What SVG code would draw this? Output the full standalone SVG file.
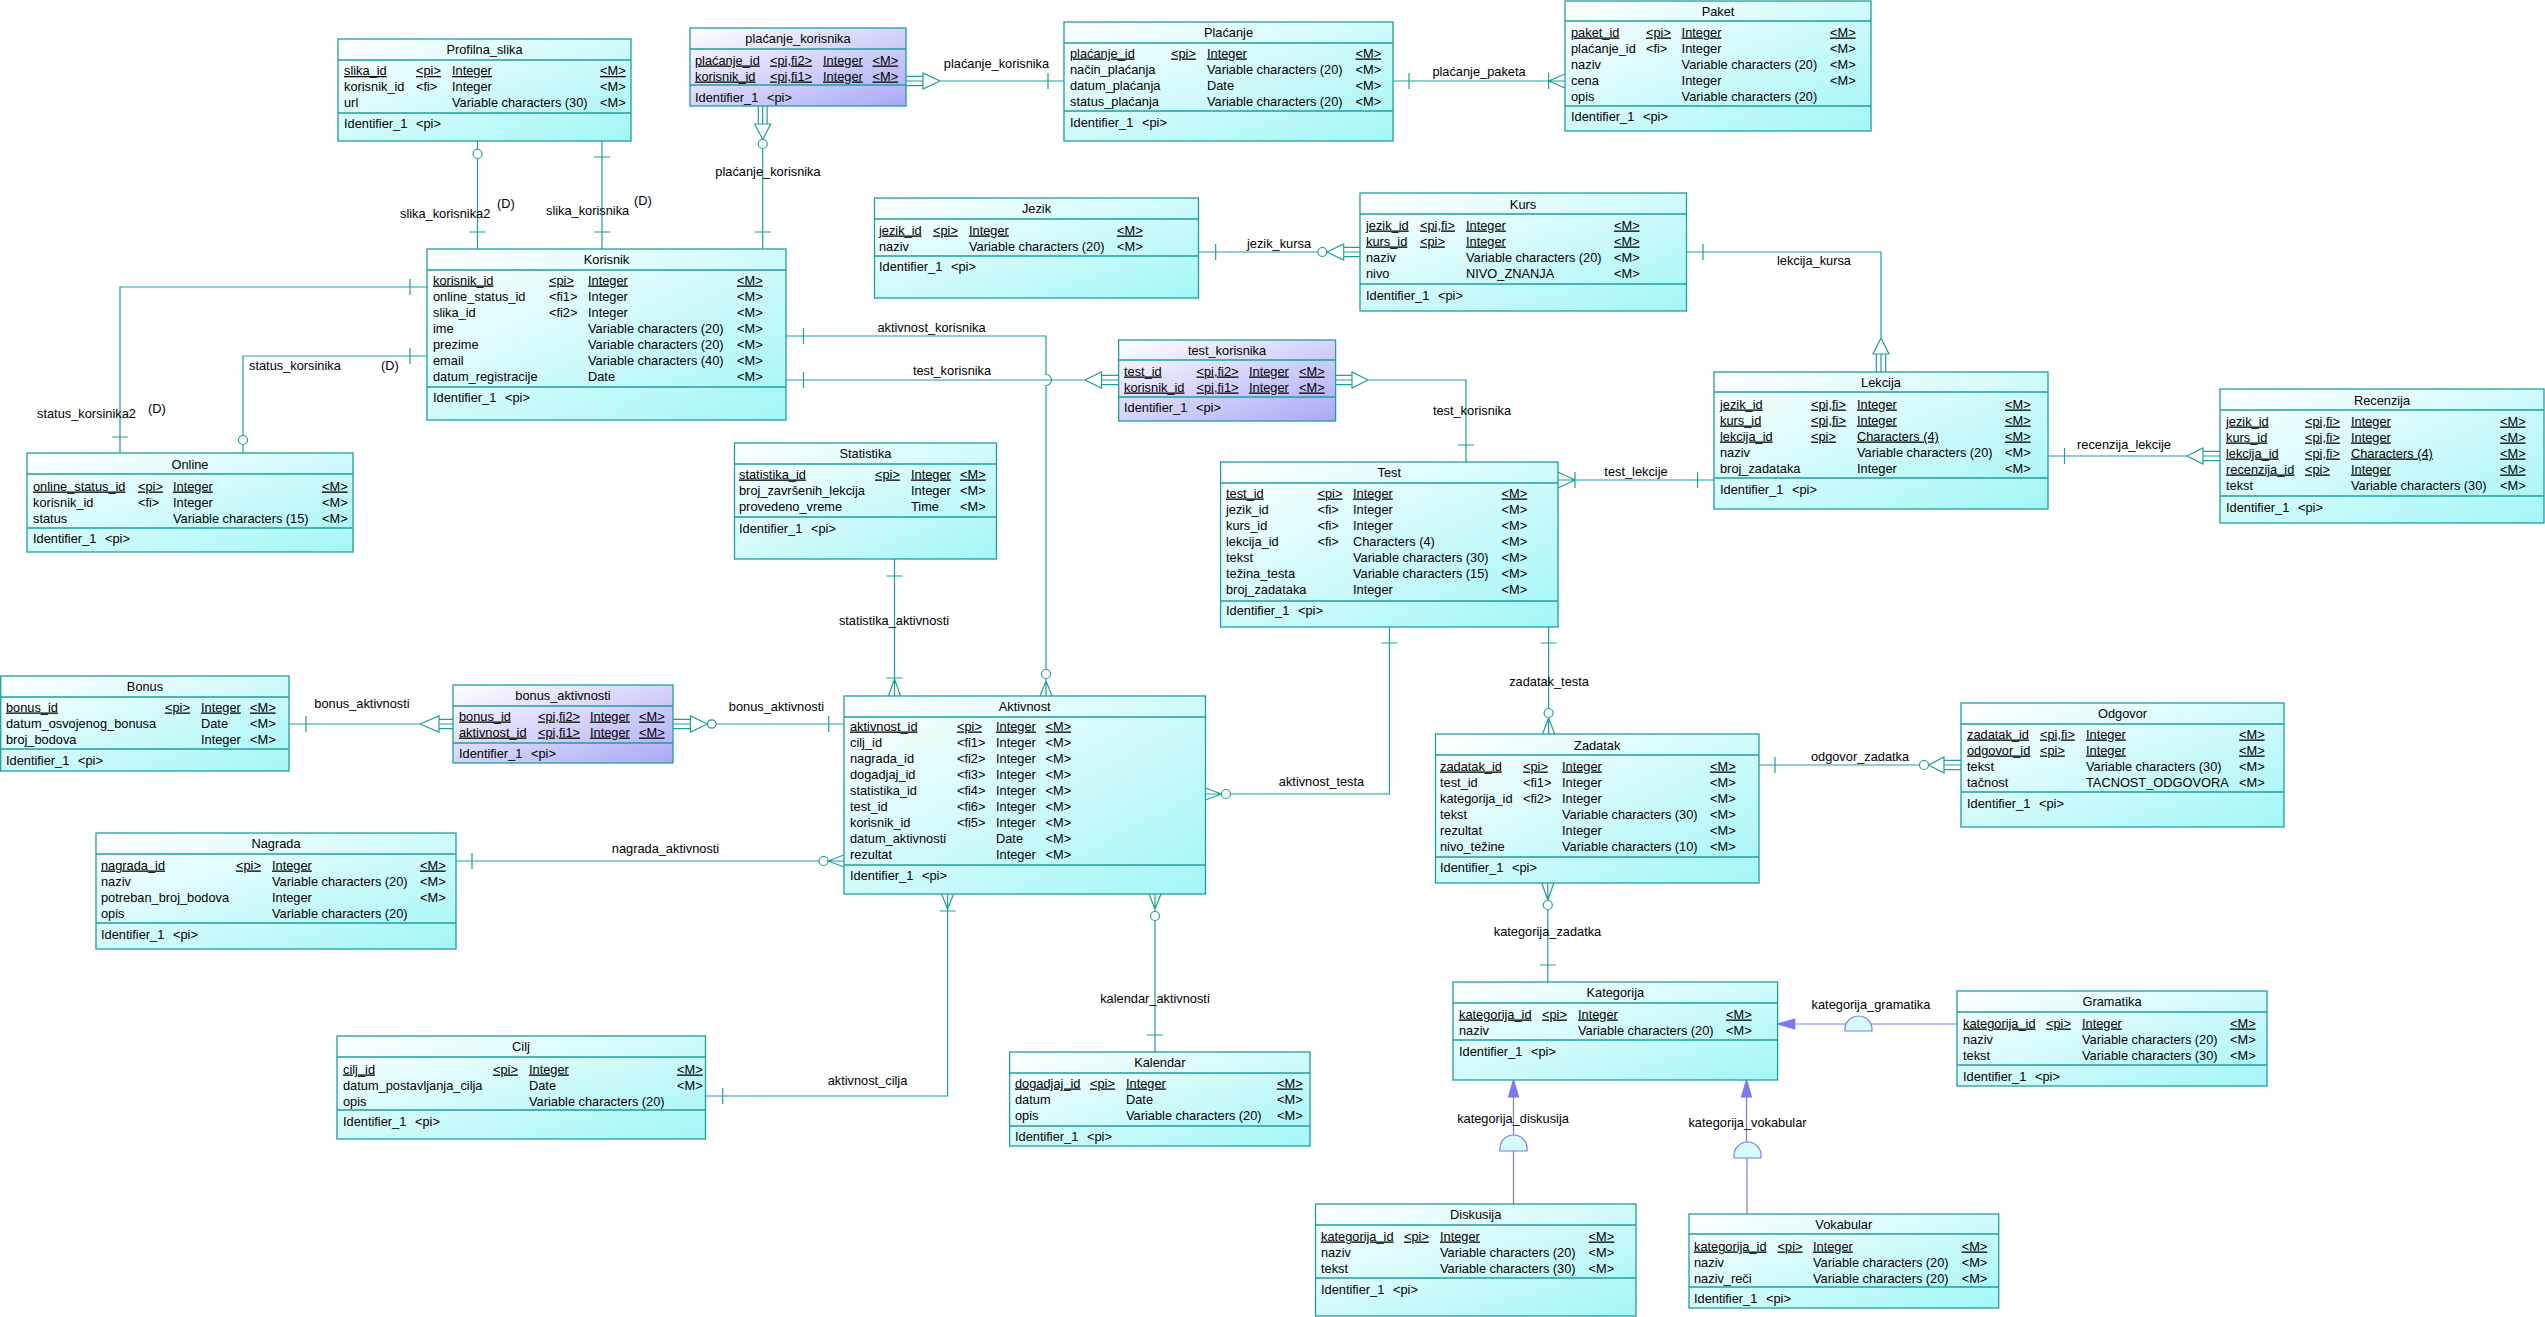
<svg xmlns="http://www.w3.org/2000/svg" width="2545" height="1317" viewBox="0 0 2545 1317">
<defs>
<linearGradient id="gc" x1="0" y1="0" x2="1" y2="1"><stop offset="0" stop-color="#ffffff"/><stop offset="1" stop-color="#a3f6f6"/></linearGradient>
<linearGradient id="gp" x1="0" y1="0" x2="1" y2="1"><stop offset="0" stop-color="#ffffff"/><stop offset="1" stop-color="#a9a9f6"/></linearGradient>
<style>
text{font-family:"Liberation Sans",Arial,sans-serif;font-size:12.8px;fill:#000}
.ent rect{fill:url(#gc);stroke:#1f9e9e;stroke-width:1.3}
.pur rect{fill:url(#gp)}
.ent line{stroke:#1f9e9e;stroke-width:1.3}
.tt{text-anchor:middle}
.u{text-decoration:underline}
.lbl{text-anchor:middle}
#connectors path{stroke:#1f9e9e;stroke-width:1.2;fill:none}
#connectors circle{stroke:#1f9e9e;fill:#fff;stroke-width:1.2}
#connectors .ih{stroke:#7a7af0}
#connectors .ia{fill:#7a7af0;stroke:#7a7af0}
#connectors .id{fill:#d6fbfb;stroke:#7a7af0}
</style>
</defs>
<rect x="0" y="0" width="2545" height="1317" fill="#fff"/>

<g id="connectors">
<path d="M477.5,141V149.5M477.5,158.5V249M469.5,232H485.5"/>
<circle cx="477.5" cy="154" r="4.5"/>
<text x="400" y="218">slika_korisnika2</text><text x="497" y="208">(D)</text>

<path d="M602,141V249M594,157H610M594,232H610"/>
<text x="546" y="214.5">slika_korisnika</text><text x="634" y="204.5">(D)</text>

<path d="M758.3,106V124M762.7,106V124M767.1,106V124M754.7,124H770.7L762.7,139.5Z M762.7,148.5V249M754.7,232H770.7"/>
<circle cx="762.7" cy="144" r="4.5"/>
<text class="lbl" x="768" y="176">plaćanje_korisnika</text>

<path d="M906,76.3H923M906,81H923M906,85.7H923M923,73V89L940,81Z M940,81H1064M1048,73V89"/>
<text class="lbl" x="996.5" y="68">plaćanje_korisnika</text>

<path d="M1392.7,81H1565M1409,73V89M1548.6,73V89M1548.6,81L1565,74M1548.6,81L1565,88"/>
<text class="lbl" x="1479" y="76">plaćanje_paketa</text>

<path d="M1198.6,252H1317.9M1215.7,244V260M1326.9,252L1343.7,244V260Z M1343.7,247.3H1360M1343.7,252H1360M1343.7,256.7H1360"/>
<circle cx="1322.4" cy="252" r="4.5"/>
<text class="lbl" x="1279" y="248">jezik_kursa</text>

<path d="M1686.5,252H1881V338M1703,244V260M1881,338L1873,354H1889Z M1876.3,354V372M1881,354V372M1885.7,354V372"/>
<text class="lbl" x="1814" y="265">lekcija_kursa</text>

<path d="M786,336H1046V374.5A5.5,5.5 0 0 1 1046,385.5V669.5M803.5,328V344M1046,678.5V696M1046,681L1040,696M1046,681L1052,696"/>
<circle cx="1046" cy="674" r="4.5"/>
<text class="lbl" x="931.5" y="332">aktivnost_korisnika</text>

<path d="M786,380H1085M1085,380L1101.5,372V388Z M1101.5,375.3H1118.6M1101.5,380H1118.6M1101.5,384.7H1118.6M803.5,372V388"/>
<text class="lbl" x="952" y="375">test_korisnika</text>

<path d="M1335.5,375.3H1352M1335.5,380H1352M1335.5,384.7H1352M1352,372V388L1368,380Z M1368,380H1466V462M1458,445H1474"/>
<text class="lbl" x="1472" y="415">test_korisnika</text>

<path d="M427,287H120V453M410,279V295M112,437H128"/>
<text x="37" y="418">status_korsinika2</text><text x="148" y="413">(D)</text>

<path d="M427,356H243V435.5M243,444.5V453M410,348V364"/>
<circle cx="243" cy="440" r="4.5"/>
<text x="249" y="369.5">status_korsinika</text><text x="381" y="369.5">(D)</text>

<path d="M289,724H420M306,716V732M420,724L439,716V732Z M439,719.3H453M439,724H453M439,728.7H453"/>
<text class="lbl" x="362" y="708">bonus_aktivnosti</text>

<path d="M673,719.3H690.4M673,724H690.4M673,728.7H690.4M690.4,716V732L707.6,724Z M716,724H844M828.8,716V732"/>
<circle cx="711.8" cy="724" r="4.2"/>
<text class="lbl" x="776.5" y="711">bonus_aktivnosti</text>

<path d="M894.5,559V696M886.5,576H902.5M886.5,678H902.5M894.5,679L888.5,696M894.5,679L900.5,696"/>
<text class="lbl" x="894" y="625">statistika_aktivnosti</text>

<path d="M456,861H819M472,853V869M828,861L844,855M828,861L844,867M828,861H844"/>
<circle cx="823.5" cy="861" r="4.5"/>
<text class="lbl" x="665.5" y="853">nagrada_aktivnosti</text>

<path d="M1389.4,627V794H1230.5M1381.4,643H1397.4M1221.5,794L1205.5,788M1221.5,794L1205.5,800M1221.5,794H1205.5"/>
<circle cx="1226" cy="794" r="4.5"/>
<text class="lbl" x="1321.5" y="786">aktivnost_testa</text>

<path d="M947.6,894V1096H705.5M941.6,894L947.6,909M953.6,894L947.6,909M939.6,911H955.6M722.7,1088V1104"/>
<text class="lbl" x="867.5" y="1085">aktivnost_cilja</text>

<path d="M1155,894V911.5M1149,894L1155,909M1161,894L1155,909M1155,920.5V1052M1147,1035H1163"/>
<circle cx="1155" cy="916" r="4.5"/>
<text class="lbl" x="1155" y="1003">kalendar_aktivnosti</text>

<path d="M1558,480H1714M1558,472L1575,480L1558,488M1575,472V488M1697.6,472V488"/>
<text class="lbl" x="1636" y="476">test_lekcije</text>

<path d="M1548.6,627V708.5M1540.6,643H1556.6M1548.6,717.5V734M1548.6,718L1542.6,734M1548.6,718L1554.6,734"/>
<circle cx="1548.6" cy="713" r="4.5"/>
<text class="lbl" x="1549" y="686">zadatak_testa</text>

<path d="M1547.8,883V900.5M1541.8,883L1547.8,900M1553.8,883L1547.8,900M1547.8,909.5V982M1539.8,965H1555.8"/>
<circle cx="1547.8" cy="905" r="4.5"/>
<text class="lbl" x="1547.5" y="936">kategorija_zadatka</text>

<path d="M1759,765H1919.5M1775,757V773M1928.5,765L1944,757V773Z M1944,760.3H1961M1944,765H1961M1944,769.7H1961"/>
<circle cx="1924" cy="765" r="4.5"/>
<text class="lbl" x="1860" y="761">odgovor_zadatka</text>

<path d="M2047.7,456H2186.7M2064.5,448V464M2186.7,456L2203,448V464Z M2203,451.3H2220M2203,456H2220M2203,460.7H2220"/>
<text class="lbl" x="2124" y="449">recenzija_lekcije</text>

<path class="ih" d="M1513.5,1097V1135M1513.5,1151V1204"/>
<path class="ia" d="M1513.5,1080L1508.5,1097H1518.5Z"/>
<path class="id" d="M1500,1151V1148A13.5,13 0 0 1 1527,1148V1151Z"/>
<text class="lbl" x="1513" y="1123">kategorija_diskusija</text>

<path class="ih" d="M1746.5,1097V1142M1747,1158V1214"/>
<path class="ia" d="M1746.5,1080L1741.5,1097H1751.5Z"/>
<path class="id" d="M1734,1158V1155A13.5,13 0 0 1 1761,1155V1158Z"/>
<text class="lbl" x="1747.5" y="1127">kategorija_vokabular</text>

<path class="ih" d="M1794.7,1024H1846M1871,1024H1957"/>
<path class="ia" d="M1777.6,1024L1794.7,1019V1029Z"/>
<path class="id" d="M1845,1031V1029A13.5,13 0 0 1 1872,1029V1031Z"/>
<text class="lbl" x="1871" y="1009">kategorija_gramatika</text>
</g>

<g id="profilna_slika" class="ent">
<rect x="338" y="39" width="293" height="102"/>
<line x1="338" y1="60" x2="631" y2="60"/><line x1="338" y1="113" x2="631" y2="113"/>
<text class="tt" x="484.5" y="54">Profilna_slika</text>
<text class="u" y="75"><tspan x="344">slika_id</tspan><tspan x="416">&lt;pi&gt;</tspan><tspan x="452">Integer</tspan><tspan x="600">&lt;M&gt;</tspan></text>
<text y="91"><tspan x="344">korisnik_id</tspan><tspan x="416">&lt;fi&gt;</tspan><tspan x="452">Integer</tspan><tspan x="600">&lt;M&gt;</tspan></text>
<text y="107"><tspan x="344">url</tspan><tspan x="452">Variable characters (30)</tspan><tspan x="600">&lt;M&gt;</tspan></text>
<text y="127.5"><tspan x="344">Identifier_1</tspan><tspan x="416">&lt;pi&gt;</tspan></text>
</g>

<g id="placanje_korisnika" class="ent pur">
<rect x="690" y="28" width="216" height="78"/>
<line x1="690" y1="49" x2="906" y2="49"/><line x1="690" y1="85" x2="906" y2="85"/>
<text class="tt" x="798" y="43">plaćanje_korisnika</text>
<text class="u" y="64.5"><tspan x="695">plaćanje_id</tspan><tspan x="770">&lt;pi,fi2&gt;</tspan><tspan x="823">Integer</tspan><tspan x="872.5">&lt;M&gt;</tspan></text>
<text class="u" y="80.5"><tspan x="695">korisnik_id</tspan><tspan x="770">&lt;pi,fi1&gt;</tspan><tspan x="823">Integer</tspan><tspan x="872.5">&lt;M&gt;</tspan></text>
<text y="101.5"><tspan x="695">Identifier_1</tspan><tspan x="767">&lt;pi&gt;</tspan></text>
</g>

<g id="placanje" class="ent">
<rect x="1064" y="22" width="329" height="119"/>
<line x1="1064" y1="43" x2="1393" y2="43"/><line x1="1064" y1="111" x2="1393" y2="111"/>
<text class="tt" x="1228.5" y="36.5">Plaćanje</text>
<text class="u" y="57.5"><tspan x="1070">plaćanje_id</tspan><tspan x="1171">&lt;pi&gt;</tspan><tspan x="1207">Integer</tspan><tspan x="1355.5">&lt;M&gt;</tspan></text>
<text y="73.5"><tspan x="1070">način_plaćanja</tspan><tspan x="1207">Variable characters (20)</tspan><tspan x="1355.5">&lt;M&gt;</tspan></text>
<text y="89.5"><tspan x="1070">datum_plaćanja</tspan><tspan x="1207">Date</tspan><tspan x="1355.5">&lt;M&gt;</tspan></text>
<text y="105.5"><tspan x="1070">status_plaćanja</tspan><tspan x="1207">Variable characters (20)</tspan><tspan x="1355.5">&lt;M&gt;</tspan></text>
<text y="126.5"><tspan x="1070">Identifier_1</tspan><tspan x="1142">&lt;pi&gt;</tspan></text>
</g>

<g id="paket" class="ent">
<rect x="1565" y="1" width="306" height="130"/>
<line x1="1565" y1="21" x2="1871" y2="21"/><line x1="1565" y1="106" x2="1871" y2="106"/>
<text class="tt" x="1718" y="16">Paket</text>
<text class="u" y="36.5"><tspan x="1571">paket_id</tspan><tspan x="1646">&lt;pi&gt;</tspan><tspan x="1681.6">Integer</tspan><tspan x="1830">&lt;M&gt;</tspan></text>
<text y="52.5"><tspan x="1571">plaćanje_id</tspan><tspan x="1646">&lt;fi&gt;</tspan><tspan x="1681.6">Integer</tspan><tspan x="1830">&lt;M&gt;</tspan></text>
<text y="68.5"><tspan x="1571">naziv</tspan><tspan x="1681.6">Variable characters (20)</tspan><tspan x="1830">&lt;M&gt;</tspan></text>
<text y="84.5"><tspan x="1571">cena</tspan><tspan x="1681.6">Integer</tspan><tspan x="1830">&lt;M&gt;</tspan></text>
<text y="100.5"><tspan x="1571">opis</tspan><tspan x="1681.6">Variable characters (20)</tspan></text>
<text y="120.5"><tspan x="1571">Identifier_1</tspan><tspan x="1643">&lt;pi&gt;</tspan></text>
</g>

<g id="korisnik" class="ent">
<rect x="427" y="249" width="359" height="171"/>
<line x1="427" y1="270" x2="786" y2="270"/><line x1="427" y1="387" x2="786" y2="387"/>
<text class="tt" x="606.5" y="264">Korisnik</text>
<text class="u" y="284.5"><tspan x="433">korisnik_id</tspan><tspan x="549">&lt;pi&gt;</tspan><tspan x="588">Integer</tspan><tspan x="737">&lt;M&gt;</tspan></text>
<text y="300.5"><tspan x="433">online_status_id</tspan><tspan x="549">&lt;fi1&gt;</tspan><tspan x="588">Integer</tspan><tspan x="737">&lt;M&gt;</tspan></text>
<text y="316.5"><tspan x="433">slika_id</tspan><tspan x="549">&lt;fi2&gt;</tspan><tspan x="588">Integer</tspan><tspan x="737">&lt;M&gt;</tspan></text>
<text y="332.5"><tspan x="433">ime</tspan><tspan x="588">Variable characters (20)</tspan><tspan x="737">&lt;M&gt;</tspan></text>
<text y="348.5"><tspan x="433">prezime</tspan><tspan x="588">Variable characters (20)</tspan><tspan x="737">&lt;M&gt;</tspan></text>
<text y="364.5"><tspan x="433">email</tspan><tspan x="588">Variable characters (40)</tspan><tspan x="737">&lt;M&gt;</tspan></text>
<text y="380.5"><tspan x="433">datum_registracije</tspan><tspan x="588">Date</tspan><tspan x="737">&lt;M&gt;</tspan></text>
<text y="401.5"><tspan x="433">Identifier_1</tspan><tspan x="505">&lt;pi&gt;</tspan></text>
</g>

<g id="jezik" class="ent">
<rect x="874.5" y="198" width="324" height="100"/>
<line x1="874.5" y1="219" x2="1198.5" y2="219"/><line x1="874.5" y1="256" x2="1198.5" y2="256"/>
<text class="tt" x="1036.5" y="212.5">Jezik</text>
<text class="u" y="234.5"><tspan x="879">jezik_id</tspan><tspan x="933">&lt;pi&gt;</tspan><tspan x="969">Integer</tspan><tspan x="1117">&lt;M&gt;</tspan></text>
<text y="250.5"><tspan x="879">naziv</tspan><tspan x="969">Variable characters (20)</tspan><tspan x="1117">&lt;M&gt;</tspan></text>
<text y="270.5"><tspan x="879">Identifier_1</tspan><tspan x="951">&lt;pi&gt;</tspan></text>
</g>

<g id="kurs" class="ent">
<rect x="1360" y="193" width="326.5" height="118"/>
<line x1="1360" y1="214" x2="1686.5" y2="214"/><line x1="1360" y1="284" x2="1686.5" y2="284"/>
<text class="tt" x="1523" y="208.5">Kurs</text>
<text class="u" y="229.5"><tspan x="1366">jezik_id</tspan><tspan x="1420">&lt;pi,fi&gt;</tspan><tspan x="1466">Integer</tspan><tspan x="1614">&lt;M&gt;</tspan></text>
<text class="u" y="245.5"><tspan x="1366">kurs_id</tspan><tspan x="1420">&lt;pi&gt;</tspan><tspan x="1466">Integer</tspan><tspan x="1614">&lt;M&gt;</tspan></text>
<text y="261.5"><tspan x="1366">naziv</tspan><tspan x="1466">Variable characters (20)</tspan><tspan x="1614">&lt;M&gt;</tspan></text>
<text y="277.5"><tspan x="1366">nivo</tspan><tspan x="1466">NIVO_ZNANJA</tspan><tspan x="1614">&lt;M&gt;</tspan></text>
<text y="299.5"><tspan x="1366">Identifier_1</tspan><tspan x="1438">&lt;pi&gt;</tspan></text>
</g>

<g id="test_korisnika" class="ent pur">
<rect x="1118.6" y="340" width="217" height="81"/>
<line x1="1118.6" y1="360" x2="1335.6" y2="360"/><line x1="1118.6" y1="397" x2="1335.6" y2="397"/>
<text class="tt" x="1227" y="354.5">test_korisnika</text>
<text class="u" y="375.5"><tspan x="1124">test_id</tspan><tspan x="1196.5">&lt;pi,fi2&gt;</tspan><tspan x="1249">Integer</tspan><tspan x="1299">&lt;M&gt;</tspan></text>
<text class="u" y="391.5"><tspan x="1124">korisnik_id</tspan><tspan x="1196.5">&lt;pi,fi1&gt;</tspan><tspan x="1249">Integer</tspan><tspan x="1299">&lt;M&gt;</tspan></text>
<text y="411.5"><tspan x="1124">Identifier_1</tspan><tspan x="1196">&lt;pi&gt;</tspan></text>
</g>

<g id="lekcija" class="ent">
<rect x="1714" y="372" width="334" height="137"/>
<line x1="1714" y1="392" x2="2048" y2="392"/><line x1="1714" y1="478" x2="2048" y2="478"/>
<text class="tt" x="1881" y="386.5">Lekcija</text>
<text class="u" y="408.5"><tspan x="1720">jezik_id</tspan><tspan x="1811">&lt;pi,fi&gt;</tspan><tspan x="1857">Integer</tspan><tspan x="2005">&lt;M&gt;</tspan></text>
<text class="u" y="424.5"><tspan x="1720">kurs_id</tspan><tspan x="1811">&lt;pi,fi&gt;</tspan><tspan x="1857">Integer</tspan><tspan x="2005">&lt;M&gt;</tspan></text>
<text class="u" y="440.5"><tspan x="1720">lekcija_id</tspan><tspan x="1811">&lt;pi&gt;</tspan><tspan x="1857">Characters (4)</tspan><tspan x="2005">&lt;M&gt;</tspan></text>
<text y="456.5"><tspan x="1720">naziv</tspan><tspan x="1857">Variable characters (20)</tspan><tspan x="2005">&lt;M&gt;</tspan></text>
<text y="472.5"><tspan x="1720">broj_zadataka</tspan><tspan x="1857">Integer</tspan><tspan x="2005">&lt;M&gt;</tspan></text>
<text y="493.5"><tspan x="1720">Identifier_1</tspan><tspan x="1792">&lt;pi&gt;</tspan></text>
</g>

<g id="recenzija" class="ent">
<rect x="2220" y="389" width="324" height="134"/>
<line x1="2220" y1="410" x2="2544" y2="410"/><line x1="2220" y1="496" x2="2544" y2="496"/>
<text class="tt" x="2382" y="404.5">Recenzija</text>
<text class="u" y="425.5"><tspan x="2226">jezik_id</tspan><tspan x="2305">&lt;pi,fi&gt;</tspan><tspan x="2351">Integer</tspan><tspan x="2500">&lt;M&gt;</tspan></text>
<text class="u" y="441.5"><tspan x="2226">kurs_id</tspan><tspan x="2305">&lt;pi,fi&gt;</tspan><tspan x="2351">Integer</tspan><tspan x="2500">&lt;M&gt;</tspan></text>
<text class="u" y="457.5"><tspan x="2226">lekcija_id</tspan><tspan x="2305">&lt;pi,fi&gt;</tspan><tspan x="2351">Characters (4)</tspan><tspan x="2500">&lt;M&gt;</tspan></text>
<text class="u" y="473.5"><tspan x="2226">recenzija_id</tspan><tspan x="2305">&lt;pi&gt;</tspan><tspan x="2351">Integer</tspan><tspan x="2500">&lt;M&gt;</tspan></text>
<text y="489.5"><tspan x="2226">tekst</tspan><tspan x="2351">Variable characters (30)</tspan><tspan x="2500">&lt;M&gt;</tspan></text>
<text y="511.5"><tspan x="2226">Identifier_1</tspan><tspan x="2298">&lt;pi&gt;</tspan></text>
</g>

<g id="online" class="ent">
<rect x="27" y="453" width="326" height="99"/>
<line x1="27" y1="474" x2="353" y2="474"/><line x1="27" y1="528" x2="353" y2="528"/>
<text class="tt" x="190" y="468.5">Online</text>
<text class="u" y="490.5"><tspan x="33">online_status_id</tspan><tspan x="138">&lt;pi&gt;</tspan><tspan x="173">Integer</tspan><tspan x="322">&lt;M&gt;</tspan></text>
<text y="506.5"><tspan x="33">korisnik_id</tspan><tspan x="138">&lt;fi&gt;</tspan><tspan x="173">Integer</tspan><tspan x="322">&lt;M&gt;</tspan></text>
<text y="522.5"><tspan x="33">status</tspan><tspan x="173">Variable characters (15)</tspan><tspan x="322">&lt;M&gt;</tspan></text>
<text y="542.5"><tspan x="33">Identifier_1</tspan><tspan x="105">&lt;pi&gt;</tspan></text>
</g>

<g id="statistika" class="ent">
<rect x="734.5" y="443" width="262" height="116"/>
<line x1="734.5" y1="464" x2="996.5" y2="464"/><line x1="734.5" y1="517" x2="996.5" y2="517"/>
<text class="tt" x="865.5" y="458">Statistika</text>
<text class="u" y="478.5"><tspan x="739">statistika_id</tspan><tspan x="875">&lt;pi&gt;</tspan><tspan x="911">Integer</tspan><tspan x="960">&lt;M&gt;</tspan></text>
<text y="494.5"><tspan x="739">broj_završenih_lekcija</tspan><tspan x="911">Integer</tspan><tspan x="960">&lt;M&gt;</tspan></text>
<text y="510.5"><tspan x="739">provedeno_vreme</tspan><tspan x="911">Time</tspan><tspan x="960">&lt;M&gt;</tspan></text>
<text y="532.5"><tspan x="739">Identifier_1</tspan><tspan x="811">&lt;pi&gt;</tspan></text>
</g>

<g id="test" class="ent">
<rect x="1220.6" y="462" width="337.4" height="165"/>
<line x1="1220.6" y1="483" x2="1558" y2="483"/><line x1="1220.6" y1="601" x2="1558" y2="601"/>
<text class="tt" x="1389.3" y="476.5">Test</text>
<text class="u" y="497.5"><tspan x="1226">test_id</tspan><tspan x="1317.5">&lt;pi&gt;</tspan><tspan x="1353">Integer</tspan><tspan x="1501.6">&lt;M&gt;</tspan></text>
<text y="513.5"><tspan x="1226">jezik_id</tspan><tspan x="1317.5">&lt;fi&gt;</tspan><tspan x="1353">Integer</tspan><tspan x="1501.6">&lt;M&gt;</tspan></text>
<text y="529.5"><tspan x="1226">kurs_id</tspan><tspan x="1317.5">&lt;fi&gt;</tspan><tspan x="1353">Integer</tspan><tspan x="1501.6">&lt;M&gt;</tspan></text>
<text y="545.5"><tspan x="1226">lekcija_id</tspan><tspan x="1317.5">&lt;fi&gt;</tspan><tspan x="1353">Characters (4)</tspan><tspan x="1501.6">&lt;M&gt;</tspan></text>
<text y="561.5"><tspan x="1226">tekst</tspan><tspan x="1353">Variable characters (30)</tspan><tspan x="1501.6">&lt;M&gt;</tspan></text>
<text y="577.5"><tspan x="1226">težina_testa</tspan><tspan x="1353">Variable characters (15)</tspan><tspan x="1501.6">&lt;M&gt;</tspan></text>
<text y="593.5"><tspan x="1226">broj_zadataka</tspan><tspan x="1353">Integer</tspan><tspan x="1501.6">&lt;M&gt;</tspan></text>
<text y="614.5"><tspan x="1226">Identifier_1</tspan><tspan x="1298">&lt;pi&gt;</tspan></text>
</g>

<g id="bonus" class="ent">
<rect x="0.7" y="676" width="288.3" height="95"/>
<line x1="0.7" y1="697" x2="289" y2="697"/><line x1="0.7" y1="749" x2="289" y2="749"/>
<text class="tt" x="145" y="690.5">Bonus</text>
<text class="u" y="711.5"><tspan x="6">bonus_id</tspan><tspan x="165">&lt;pi&gt;</tspan><tspan x="201">Integer</tspan><tspan x="250">&lt;M&gt;</tspan></text>
<text y="727.5"><tspan x="6">datum_osvojenog_bonusa</tspan><tspan x="201">Date</tspan><tspan x="250">&lt;M&gt;</tspan></text>
<text y="743.5"><tspan x="6">broj_bodova</tspan><tspan x="201">Integer</tspan><tspan x="250">&lt;M&gt;</tspan></text>
<text y="764.5"><tspan x="6">Identifier_1</tspan><tspan x="78">&lt;pi&gt;</tspan></text>
</g>

<g id="bonus_aktivnosti" class="ent pur">
<rect x="453" y="685" width="220" height="78"/>
<line x1="453" y1="706" x2="673" y2="706"/><line x1="453" y1="743" x2="673" y2="743"/>
<text class="tt" x="563" y="700">bonus_aktivnosti</text>
<text class="u" y="720.5"><tspan x="459">bonus_id</tspan><tspan x="538">&lt;pi,fi2&gt;</tspan><tspan x="590">Integer</tspan><tspan x="639">&lt;M&gt;</tspan></text>
<text class="u" y="736.5"><tspan x="459">aktivnost_id</tspan><tspan x="538">&lt;pi,fi1&gt;</tspan><tspan x="590">Integer</tspan><tspan x="639">&lt;M&gt;</tspan></text>
<text y="757.5"><tspan x="459">Identifier_1</tspan><tspan x="531">&lt;pi&gt;</tspan></text>
</g>

<g id="aktivnost" class="ent">
<rect x="844" y="696" width="361.5" height="198"/>
<line x1="844" y1="717" x2="1205.5" y2="717"/><line x1="844" y1="865" x2="1205.5" y2="865"/>
<text class="tt" x="1024.7" y="710.5">Aktivnost</text>
<text class="u" y="730.5"><tspan x="850">aktivnost_id</tspan><tspan x="957">&lt;pi&gt;</tspan><tspan x="996">Integer</tspan><tspan x="1045.5">&lt;M&gt;</tspan></text>
<text y="746.5"><tspan x="850">cilj_id</tspan><tspan x="957">&lt;fi1&gt;</tspan><tspan x="996">Integer</tspan><tspan x="1045.5">&lt;M&gt;</tspan></text>
<text y="762.5"><tspan x="850">nagrada_id</tspan><tspan x="957">&lt;fi2&gt;</tspan><tspan x="996">Integer</tspan><tspan x="1045.5">&lt;M&gt;</tspan></text>
<text y="778.5"><tspan x="850">dogadjaj_id</tspan><tspan x="957">&lt;fi3&gt;</tspan><tspan x="996">Integer</tspan><tspan x="1045.5">&lt;M&gt;</tspan></text>
<text y="794.5"><tspan x="850">statistika_id</tspan><tspan x="957">&lt;fi4&gt;</tspan><tspan x="996">Integer</tspan><tspan x="1045.5">&lt;M&gt;</tspan></text>
<text y="810.5"><tspan x="850">test_id</tspan><tspan x="957">&lt;fi6&gt;</tspan><tspan x="996">Integer</tspan><tspan x="1045.5">&lt;M&gt;</tspan></text>
<text y="826.5"><tspan x="850">korisnik_id</tspan><tspan x="957">&lt;fi5&gt;</tspan><tspan x="996">Integer</tspan><tspan x="1045.5">&lt;M&gt;</tspan></text>
<text y="842.5"><tspan x="850">datum_aktivnosti</tspan><tspan x="996">Date</tspan><tspan x="1045.5">&lt;M&gt;</tspan></text>
<text y="858.5"><tspan x="850">rezultat</tspan><tspan x="996">Integer</tspan><tspan x="1045.5">&lt;M&gt;</tspan></text>
<text y="879.5"><tspan x="850">Identifier_1</tspan><tspan x="922">&lt;pi&gt;</tspan></text>
</g>

<g id="zadatak" class="ent">
<rect x="1435.5" y="734" width="323.5" height="149"/>
<line x1="1435.5" y1="755" x2="1759" y2="755"/><line x1="1435.5" y1="857" x2="1759" y2="857"/>
<text class="tt" x="1597.2" y="749.5">Zadatak</text>
<text class="u" y="770.5"><tspan x="1440">zadatak_id</tspan><tspan x="1523">&lt;pi&gt;</tspan><tspan x="1562">Integer</tspan><tspan x="1710">&lt;M&gt;</tspan></text>
<text y="786.5"><tspan x="1440">test_id</tspan><tspan x="1523">&lt;fi1&gt;</tspan><tspan x="1562">Integer</tspan><tspan x="1710">&lt;M&gt;</tspan></text>
<text y="802.5"><tspan x="1440">kategorija_id</tspan><tspan x="1523">&lt;fi2&gt;</tspan><tspan x="1562">Integer</tspan><tspan x="1710">&lt;M&gt;</tspan></text>
<text y="818.5"><tspan x="1440">tekst</tspan><tspan x="1562">Variable characters (30)</tspan><tspan x="1710">&lt;M&gt;</tspan></text>
<text y="834.5"><tspan x="1440">rezultat</tspan><tspan x="1562">Integer</tspan><tspan x="1710">&lt;M&gt;</tspan></text>
<text y="850.5"><tspan x="1440">nivo_težine</tspan><tspan x="1562">Variable characters (10)</tspan><tspan x="1710">&lt;M&gt;</tspan></text>
<text y="871.5"><tspan x="1440">Identifier_1</tspan><tspan x="1512">&lt;pi&gt;</tspan></text>
</g>

<g id="odgovor" class="ent">
<rect x="1961" y="703" width="323" height="124"/>
<line x1="1961" y1="724" x2="2284" y2="724"/><line x1="1961" y1="792" x2="2284" y2="792"/>
<text class="tt" x="2122.5" y="718">Odgovor</text>
<text class="u" y="738.5"><tspan x="1967">zadatak_id</tspan><tspan x="2040">&lt;pi,fi&gt;</tspan><tspan x="2086">Integer</tspan><tspan x="2239">&lt;M&gt;</tspan></text>
<text class="u" y="754.5"><tspan x="1967">odgovor_id</tspan><tspan x="2040">&lt;pi&gt;</tspan><tspan x="2086">Integer</tspan><tspan x="2239">&lt;M&gt;</tspan></text>
<text y="770.5"><tspan x="1967">tekst</tspan><tspan x="2086">Variable characters (30)</tspan><tspan x="2239">&lt;M&gt;</tspan></text>
<text y="786.5"><tspan x="1967">tačnost</tspan><tspan x="2086">TACNOST_ODGOVORA</tspan><tspan x="2239">&lt;M&gt;</tspan></text>
<text y="807.5"><tspan x="1967">Identifier_1</tspan><tspan x="2039">&lt;pi&gt;</tspan></text>
</g>

<g id="nagrada" class="ent">
<rect x="96" y="833" width="360" height="116"/>
<line x1="96" y1="854" x2="456" y2="854"/><line x1="96" y1="923" x2="456" y2="923"/>
<text class="tt" x="276" y="848">Nagrada</text>
<text class="u" y="869.5"><tspan x="101">nagrada_id</tspan><tspan x="236">&lt;pi&gt;</tspan><tspan x="272">Integer</tspan><tspan x="420">&lt;M&gt;</tspan></text>
<text y="885.5"><tspan x="101">naziv</tspan><tspan x="272">Variable characters (20)</tspan><tspan x="420">&lt;M&gt;</tspan></text>
<text y="901.5"><tspan x="101">potreban_broj_bodova</tspan><tspan x="272">Integer</tspan><tspan x="420">&lt;M&gt;</tspan></text>
<text y="917.5"><tspan x="101">opis</tspan><tspan x="272">Variable characters (20)</tspan></text>
<text y="938.5"><tspan x="101">Identifier_1</tspan><tspan x="173">&lt;pi&gt;</tspan></text>
</g>

<g id="cilj" class="ent">
<rect x="337" y="1036" width="368.5" height="103"/>
<line x1="337" y1="1057" x2="705.5" y2="1057"/><line x1="337" y1="1110" x2="705.5" y2="1110"/>
<text class="tt" x="521" y="1051">Cilj</text>
<text class="u" y="1073.5"><tspan x="343">cilj_id</tspan><tspan x="493">&lt;pi&gt;</tspan><tspan x="529">Integer</tspan><tspan x="677">&lt;M&gt;</tspan></text>
<text y="1089.5"><tspan x="343">datum_postavljanja_cilja</tspan><tspan x="529">Date</tspan><tspan x="677">&lt;M&gt;</tspan></text>
<text y="1105.5"><tspan x="343">opis</tspan><tspan x="529">Variable characters (20)</tspan></text>
<text y="1125.5"><tspan x="343">Identifier_1</tspan><tspan x="415">&lt;pi&gt;</tspan></text>
</g>

<g id="kalendar" class="ent">
<rect x="1009.6" y="1052" width="300.4" height="94"/>
<line x1="1009.6" y1="1073" x2="1310" y2="1073"/><line x1="1009.6" y1="1126" x2="1310" y2="1126"/>
<text class="tt" x="1159.8" y="1067">Kalendar</text>
<text class="u" y="1087.5"><tspan x="1015">dogadjaj_id</tspan><tspan x="1090">&lt;pi&gt;</tspan><tspan x="1126">Integer</tspan><tspan x="1277">&lt;M&gt;</tspan></text>
<text y="1103.5"><tspan x="1015">datum</tspan><tspan x="1126">Date</tspan><tspan x="1277">&lt;M&gt;</tspan></text>
<text y="1119.5"><tspan x="1015">opis</tspan><tspan x="1126">Variable characters (20)</tspan><tspan x="1277">&lt;M&gt;</tspan></text>
<text y="1140.5"><tspan x="1015">Identifier_1</tspan><tspan x="1087">&lt;pi&gt;</tspan></text>
</g>

<g id="kategorija" class="ent">
<rect x="1453" y="982" width="324.6" height="98"/>
<line x1="1453" y1="1003" x2="1777.6" y2="1003"/><line x1="1453" y1="1040" x2="1777.6" y2="1040"/>
<text class="tt" x="1615.3" y="997">Kategorija</text>
<text class="u" y="1018.5"><tspan x="1459">kategorija_id</tspan><tspan x="1542">&lt;pi&gt;</tspan><tspan x="1578">Integer</tspan><tspan x="1726">&lt;M&gt;</tspan></text>
<text y="1034.5"><tspan x="1459">naziv</tspan><tspan x="1578">Variable characters (20)</tspan><tspan x="1726">&lt;M&gt;</tspan></text>
<text y="1055.5"><tspan x="1459">Identifier_1</tspan><tspan x="1531">&lt;pi&gt;</tspan></text>
</g>

<g id="gramatika" class="ent">
<rect x="1957" y="991" width="310" height="95"/>
<line x1="1957" y1="1012" x2="2267" y2="1012"/><line x1="1957" y1="1065" x2="2267" y2="1065"/>
<text class="tt" x="2112" y="1006">Gramatika</text>
<text class="u" y="1027.5"><tspan x="1963">kategorija_id</tspan><tspan x="2046">&lt;pi&gt;</tspan><tspan x="2082">Integer</tspan><tspan x="2230">&lt;M&gt;</tspan></text>
<text y="1043.5"><tspan x="1963">naziv</tspan><tspan x="2082">Variable characters (20)</tspan><tspan x="2230">&lt;M&gt;</tspan></text>
<text y="1059.5"><tspan x="1963">tekst</tspan><tspan x="2082">Variable characters (30)</tspan><tspan x="2230">&lt;M&gt;</tspan></text>
<text y="1080.5"><tspan x="1963">Identifier_1</tspan><tspan x="2035">&lt;pi&gt;</tspan></text>
</g>

<g id="diskusija" class="ent">
<rect x="1315.5" y="1204" width="320.5" height="112"/>
<line x1="1315.5" y1="1225" x2="1636" y2="1225"/><line x1="1315.5" y1="1278" x2="1636" y2="1278"/>
<text class="tt" x="1475.7" y="1219">Diskusija</text>
<text class="u" y="1240.5"><tspan x="1321">kategorija_id</tspan><tspan x="1404">&lt;pi&gt;</tspan><tspan x="1440">Integer</tspan><tspan x="1588.6">&lt;M&gt;</tspan></text>
<text y="1256.5"><tspan x="1321">naziv</tspan><tspan x="1440">Variable characters (20)</tspan><tspan x="1588.6">&lt;M&gt;</tspan></text>
<text y="1272.5"><tspan x="1321">tekst</tspan><tspan x="1440">Variable characters (30)</tspan><tspan x="1588.6">&lt;M&gt;</tspan></text>
<text y="1293.5"><tspan x="1321">Identifier_1</tspan><tspan x="1393">&lt;pi&gt;</tspan></text>
</g>

<g id="vokabular" class="ent">
<rect x="1689" y="1214" width="309.7" height="94"/>
<line x1="1689" y1="1234" x2="1998.7" y2="1234"/><line x1="1689" y1="1287" x2="1998.7" y2="1287"/>
<text class="tt" x="1843.8" y="1228.5">Vokabular</text>
<text class="u" y="1250.5"><tspan x="1694">kategorija_id</tspan><tspan x="1777.6">&lt;pi&gt;</tspan><tspan x="1813">Integer</tspan><tspan x="1961.7">&lt;M&gt;</tspan></text>
<text y="1266.5"><tspan x="1694">naziv</tspan><tspan x="1813">Variable characters (20)</tspan><tspan x="1961.7">&lt;M&gt;</tspan></text>
<text y="1282.5"><tspan x="1694">naziv_reči</tspan><tspan x="1813">Variable characters (20)</tspan><tspan x="1961.7">&lt;M&gt;</tspan></text>
<text y="1302.5"><tspan x="1694">Identifier_1</tspan><tspan x="1766">&lt;pi&gt;</tspan></text>
</g>
</svg>
